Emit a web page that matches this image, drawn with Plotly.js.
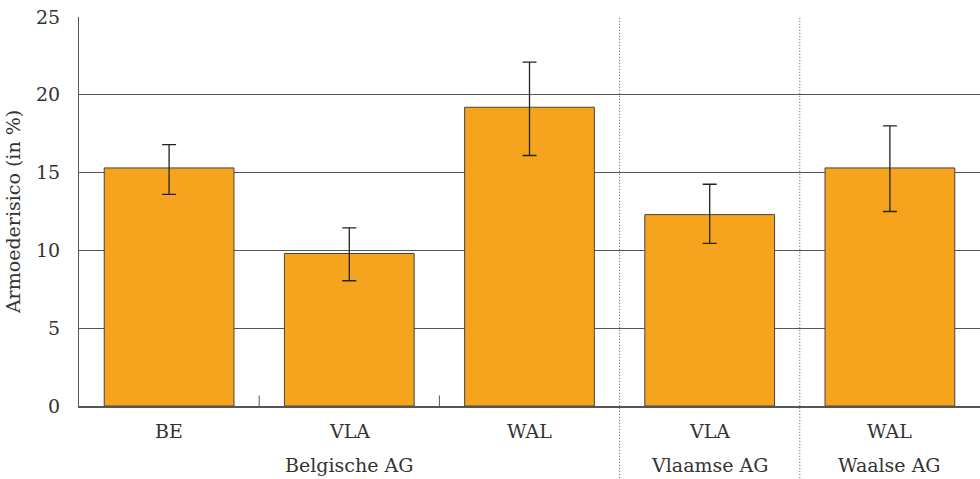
<!DOCTYPE html>
<html>
<head>
<meta charset="utf-8">
<script src="https://cdn.plot.ly/plotly-3.0.1.min.js"></script>
<style>html,body{margin:0;padding:0;background:#fff;}#chart{width:980px;height:479px;}</style>
</head>
<body>
<div id="chart"></div>
<script>
var categories = ["BE", "VLA", "WAL", "VLA", "WAL"];
var groups = ["Belgische AG", "Vlaamse AG", "Waalse AG"];
var groupSpans = [[0, 2], [3, 3], [4, 4]];
var values = [15.3, 9.8, 19.2, 12.3, 15.3];
var lower = [13.6, 8.05, 16.1, 10.45, 12.5];
var upper = [16.8, 11.45, 22.1, 14.25, 18.0];
var yTicks = [0, 5, 10, 15, 20, 25];

var xs = categories.map(function(_, i){ return i; });
var errPlus = values.map(function(v, i){ return upper[i] - v; });
var errMinus = values.map(function(v, i){ return v - lower[i]; });

var FONT = "DejaVu Serif, Liberation Serif, serif";
var TXT = "#333";
var FS = 19;

var trace = {
  type: "bar",
  x: xs,
  y: values,
  width: 0.72,
  marker: {color: "#F6A41E", line: {color: "#444", width: 1}},
  error_y: {type: "data", symmetric: false, array: errPlus, arrayminus: errMinus,
            color: "#222", thickness: 1.3, width: 7},
  hoverinfo: "none"
};

var annotations = [];
categories.forEach(function(c, i){
  annotations.push({x: i, y: -0.03, xref: "x", yref: "paper", text: c, showarrow: false,
    yanchor: "top", font: {family: FONT, size: FS, color: TXT}});
});
groups.forEach(function(g, k){
  var mid = (groupSpans[k][0] + groupSpans[k][1]) / 2;
  annotations.push({x: mid, y: -0.118, xref: "x", yref: "paper", text: g, showarrow: false,
    yanchor: "top", font: {family: FONT, size: FS, color: TXT}});
});

var shapes = [];
// minor ticks between categories inside first group
[1, 2].forEach(function(p){
  shapes.push({type: "line", xref: "x", yref: "paper", x0: p - 0.5, x1: p - 0.5,
    y0: 0, y1: 0.027, line: {color: "#555", width: 1}});
});
// dotted group separators
groupSpans.slice(1).forEach(function(s){
  shapes.push({type: "line", xref: "x", yref: "paper", x0: s[0] - 0.5, x1: s[0] - 0.5,
    y0: -0.2, y1: 1, line: {color: "#555", width: 1, dash: "1px,2px"}});
});

var layout = {
  width: 980, height: 479,
  margin: {l: 79, r: 0, t: 17, b: 73},
  paper_bgcolor: "#fff", plot_bgcolor: "#fff",
  showlegend: false,
  font: {family: FONT, color: TXT},
  xaxis: {range: [-0.5, 4.5], showticklabels: false, ticks: "", showgrid: false,
          zeroline: false, showline: true, linecolor: "#555", linewidth: 1.5, fixedrange: true},
  yaxis: {range: [0, 25], tickvals: yTicks, ticktext: yTicks.map(String), showgrid: true,
          gridcolor: "#555", gridwidth: 1, zeroline: false, showline: true, linecolor: "#555",
          linewidth: 1, ticks: "", ticklabelstandoff: 14,
          tickfont: {family: FONT, size: FS, color: TXT},
          title: {text: "Armoederisico (in %)", font: {family: FONT, size: FS, color: TXT}, standoff: 10},
          fixedrange: true},
  annotations: annotations,
  shapes: shapes
};

Plotly.newPlot("chart", [trace], layout, {displayModeBar: false, staticPlot: true});
</script>
</body>
</html>
